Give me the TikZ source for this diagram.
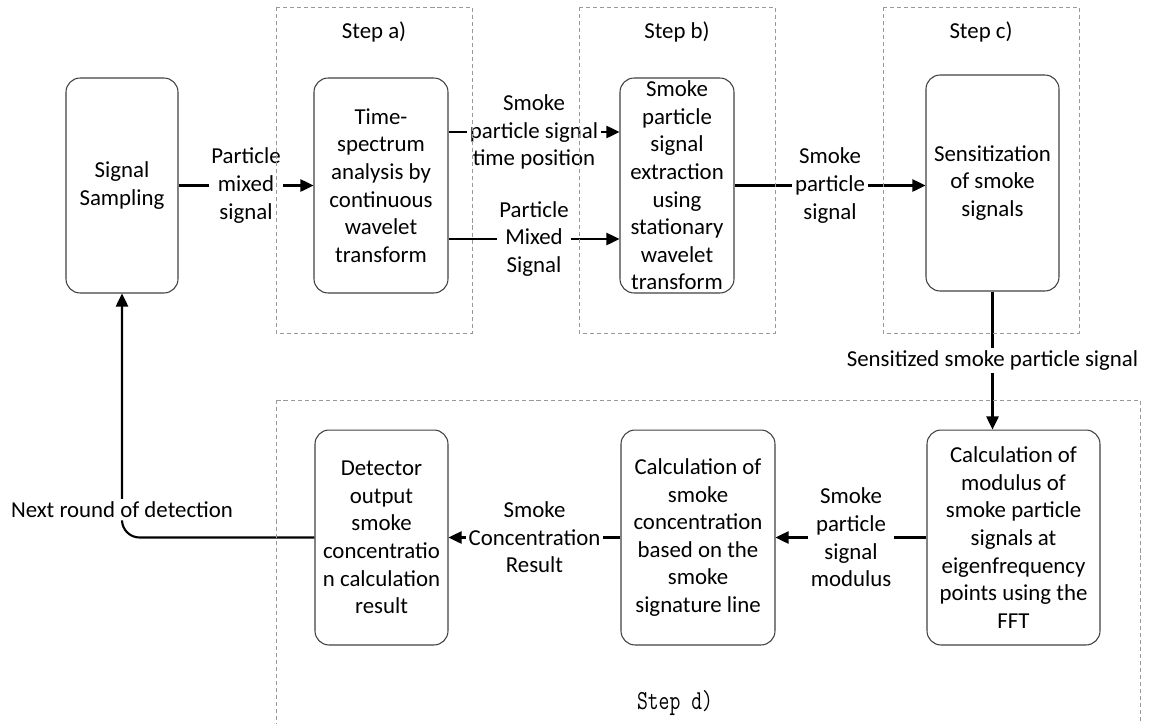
\documentclass[tikz,border=0pt]{standalone}
\usepackage{fontspec}
\setmainfont{Carlito}
\usetikzlibrary{arrows.meta}

\begin{document}
\begin{tikzpicture}[x=0.02cm, y=-0.02cm]
\tikzstyle{block}=[draw=black!75, line width=0.6pt, rounded corners=8pt, align=center, inner sep=0pt, minimum height=4.3cm, font=\fontsize{13}{15.7}\selectfont]
\tikzstyle{flow}=[line width=1.2pt, -{Triangle[length=7.5pt, width=7pt]}]
\tikzstyle{tag}=[fill=white, align=center, inner sep=1.5pt, font=\fontsize{13}{15.7}\selectfont]
\tikzstyle{frame}=[draw=black!40, line width=0.5pt, dash pattern=on 2.3pt off 1.7pt]

\useasboundingbox (0,0) rectangle (1154,724);

\node[block, minimum width=2.24cm] (samp) at (122,185.5) {Signal\\Sampling};
\node[block, minimum width=2.68cm] (cwt) at (381,185.5) {Time-\\spectrum\\analysis by\\continuous\\wavelet\\transform};
\node[block, minimum width=2.28cm] (swt) at (677,185.5) {Smoke\\particle\\signal\\extraction\\using\\stationary\\wavelet\\transform};
\node[block, minimum width=2.66cm, minimum height=4.32cm] (sens) at (992.5,183) {Sensitization\\of smoke\\signals};
\node[block, minimum width=3.46cm] (fft) at (1013.5,537.5) {Calculation of\\modulus of\\smoke particle\\signals at\\eigenfrequency\\points using the\\FFT};
\node[block, minimum width=3.08cm] (conc) at (698,537.5) {Calculation of\\smoke\\concentration\\based on the\\smoke\\signature line};
\node[block, minimum width=2.66cm] (det) at (381.5,537.5) {Detector\\output\\smoke\\concentratio\\n calculation\\result};

\draw[flow] (samp) -- node[tag] {Particle\\mixed\\signal} (cwt);
\draw[flow] (cwt.east |- 0,132) -- node[tag] {Smoke\\particle signal\\time position} (swt.west |- 0,132);
\draw[flow] (cwt.east |- 0,239) -- node[tag] {Particle\\Mixed\\Signal} (swt.west |- 0,239);
\draw[flow] (swt.east) -- node[tag] {Smoke\\particle\\signal} (sens.west |- swt.east);
\draw[flow] (sens.south) -- node[tag] {Sensitized smoke particle signal} (sens.south |- fft.north);
\draw[flow] (fft) -- node[tag] {Smoke\\particle\\signal\\modulus} (conc);
\draw[flow] (conc) -- node[tag] {Smoke\\Concentration\\Result} (det);
\draw[flow, rounded corners=10pt] (det.west) -| node[tag, pos=0.557] {Next round of detection} (samp.south);

\foreach \l/\x in {a/276,b/579,c/883} {
\draw[frame] (\x,7) rectangle +(196,326);
\node[font=\fontsize{13}{15.7}\selectfont] (step\l) at (\x+98,32) {Step \l)};
}
\draw[frame] (276,400) rectangle (1140,740);
\node[font=\ttfamily\fontsize{12}{14}\selectfont] (stepd) at (675,703) {\scalebox{1}[1.3]{Step d)}};

\end{tikzpicture}
\end{document}
